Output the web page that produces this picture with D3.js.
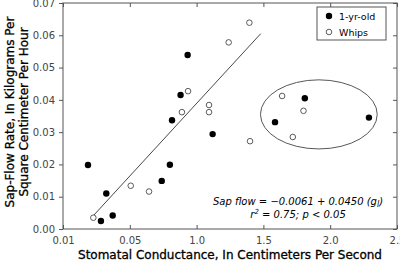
<!DOCTYPE html>
<html>
<head>
<meta charset="utf-8">
<script src="https://cdn.jsdelivr.net/npm/d3@7"></script>
<style>
  body { margin: 0; background: #fff; }
  text { font-family: "DejaVu Sans", sans-serif; }
</style>
</head>
<body>
<div class="container"></div>
<script>
// data
var oneYrX = [0.187, 0.284, 0.324, 0.372, 0.739, 0.80, 0.816, 0.88, 0.933, 1.12, 1.587, 1.81, 2.29];
var oneYrY = [0.0198, 0.0025, 0.0110, 0.0042, 0.0149, 0.0199, 0.0337, 0.0415, 0.0539, 0.0294, 0.0331, 0.0405, 0.0345];
var whipX = [0.227, 0.507, 0.644, 0.89, 0.936, 1.093, 1.093, 1.24, 1.395, 1.40, 1.64, 1.72, 1.80];
var whipY = [0.0035, 0.0134, 0.0116, 0.0362, 0.0427, 0.0384, 0.0362, 0.0578, 0.0639, 0.0272, 0.0412, 0.0285, 0.0366];
var xTicks = [0, 0.5, 1.0, 1.5, 2.0, 2.5];
var xTickLabels = ["0.01", "0.05", "1.0", "1.5", "2.0", "2.5"];
var yTicks = [0, 0.01, 0.02, 0.03, 0.04, 0.05, 0.06, 0.07];
var fitRange = [0.227, 1.48];
var intercept = -0.0061, slope = 0.0450;

var margin = {top: 3, right: 3, bottom: 36, left: 63},
    width = 400,
    height = 265;

var svg = d3.select(".container").append("svg")
    .attr("width", width)
    .attr("height", height);

var x = d3.scaleLinear().domain([0, 2.5]).range([margin.left, width - margin.right]);
var y = d3.scaleLinear().domain([0, 0.07]).range([height - margin.bottom, margin.top]);

// frame
svg.append("rect")
    .attr("x", x(0)).attr("y", y(0.07))
    .attr("width", x(2.5) - x(0)).attr("height", y(0) - y(0.07))
    .attr("fill", "none").attr("stroke", "#555").attr("stroke-width", 1);

// axes (ticks inward, mirrored)
var tickStyle = g => {
  g.select(".domain").remove();
  g.selectAll("line").attr("stroke", "#555");
  g.selectAll("text").attr("fill", "#444").style("font-size", "10px");
};
svg.append("g").attr("transform", `translate(0,${y(0)})`)
    .call(d3.axisBottom(x).tickValues(xTicks).tickSizeInner(-4).tickSizeOuter(0).tickPadding(8)
        .tickFormat((d, i) => xTickLabels[i]))
    .call(tickStyle);
svg.append("g").attr("transform", `translate(0,${y(0.07)})`)
    .call(d3.axisTop(x).tickValues(xTicks).tickSizeInner(-4).tickSizeOuter(0).tickFormat(""))
    .call(tickStyle);
svg.append("g").attr("transform", `translate(${x(0)},0)`)
    .call(d3.axisLeft(y).tickValues(yTicks).tickSizeInner(4).tickSizeOuter(0).tickPadding(4)
        .tickFormat(d3.format(".2f")))
    .call(tickStyle);
svg.append("g").attr("transform", `translate(${x(2.5)},0)`)
    .call(d3.axisRight(y).tickValues(yTicks).tickSizeInner(-4).tickSizeOuter(0).tickFormat(""))
    .call(tickStyle);

// regression line
svg.append("line")
    .attr("x1", x(fitRange[0])).attr("y1", y(intercept + slope * fitRange[0]))
    .attr("x2", x(fitRange[1])).attr("y2", y(intercept + slope * fitRange[1]))
    .attr("stroke", "#333").attr("stroke-width", 0.9);

// ellipse around the cluster
svg.append("ellipse")
    .attr("cx", x(1.915)).attr("cy", y(0.0355))
    .attr("rx", x(0.437) - x(0)).attr("ry", y(0) - y(0.0107))
    .attr("fill", "none").attr("stroke", "#444").attr("stroke-width", 0.9);

// points
svg.append("g").selectAll("circle")
    .data(whipX)
    .join("circle")
      .attr("cx", d => x(d))
      .attr("cy", (d, i) => y(whipY[i]))
      .attr("r", 2.8)
      .attr("fill", "#fff").attr("stroke", "#333").attr("stroke-width", 0.8);
svg.append("g").selectAll("circle")
    .data(oneYrX)
    .join("circle")
      .attr("cx", d => x(d))
      .attr("cy", (d, i) => y(oneYrY[i]))
      .attr("r", 3.2)
      .attr("fill", "#000");

// legend
var lg = svg.append("g");
lg.append("rect").attr("x", 317).attr("y", 7).attr("width", 69).attr("height", 33)
    .attr("fill", "#fff").attr("stroke", "#555");
lg.append("circle").attr("cx", 329).attr("cy", 16).attr("r", 3.2).attr("fill", "#000");
lg.append("circle").attr("cx", 329).attr("cy", 32).attr("r", 2.8)
    .attr("fill", "#fff").attr("stroke", "#333").attr("stroke-width", 0.8);
lg.append("text").attr("x", 339).attr("y", 19.5).style("font-size", "9.5px").text("1-yr-old");
lg.append("text").attr("x", 339).attr("y", 35.5).style("font-size", "9.5px").text("Whips");

// equation
var eq = svg.append("text").attr("x", 298).attr("y", 205).attr("text-anchor", "middle")
    .style("font-size", "10px").style("font-style", "italic");
eq.append("tspan").text("Sap flow = −0.0061 + 0.0450 (g");
eq.append("tspan").attr("dy", 2).style("font-size", "8px").text("l");
eq.append("tspan").attr("dy", -2).text(")");
var r2 = svg.append("text").attr("x", 298).attr("y", 218).attr("text-anchor", "middle")
    .style("font-size", "10px").style("font-style", "italic");
r2.append("tspan").text("r");
r2.append("tspan").attr("dy", -4).style("font-size", "7px").text("2");
r2.append("tspan").attr("dy", 4).text(" = 0.75; p < 0.05");

// axis titles
var titleStyle = t => t.attr("text-anchor", "middle")
    .style("font-size", "12px").attr("fill", "#000")
    .attr("stroke", "#000").attr("stroke-width", 0.3);
svg.append("text")
    .attr("x", 230).attr("y", 259)
    .call(titleStyle)
    .text("Stomatal Conductance, In Centimeters Per Second");
svg.append("text")
    .attr("transform", "translate(14,112) rotate(-90)")
    .call(titleStyle)
    .text("Sap-Flow Rate, In Kilograms Per");
svg.append("text")
    .attr("transform", "translate(28,112) rotate(-90)")
    .call(titleStyle)
    .text("Square Centimeter Per Hour");
</script>
</body>
</html>
